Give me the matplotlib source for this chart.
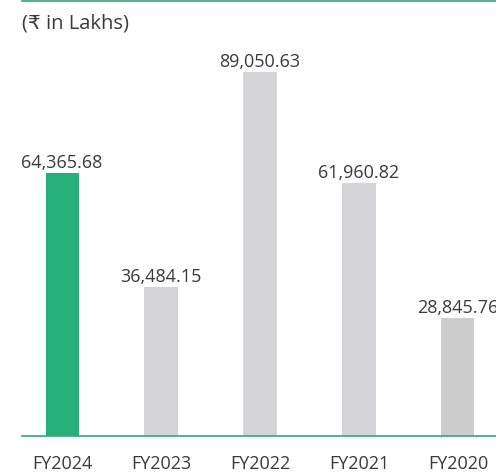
import matplotlib.pyplot as plt
import numpy as np

years = ["FY2024", "FY2023", "FY2022", "FY2021", "FY2020"]
values = [64365.68, 36484.15, 89050.63, 61960.82, 28845.76]
colors = ["#27b07b", "#d4d4d6", "#d4d4d6", "#d4d4d6", "#cdcdcd"]

plt.rcParams['font.family'] = ['Open Sans', 'DejaVu Sans']

fig = plt.figure(figsize=(4.96, 4.77), dpi=100)
ax = fig.add_axes([22 / 496, 1 - 437 / 477, 474 / 496, 435 / 477])

x = np.arange(len(years))
ax.bar(x, values, width=0.335, color=colors, zorder=2)
for xi, v in zip(x, values):
    ax.text(xi, v + 500, f"{v:,.2f}", ha="center", va="bottom",
            fontsize=13, color="#3a3a3a")

ax.set_xlim(-0.405, 4.385)
ax.set_ylim(0, 106400)
ax.set_xticks(x)
ax.set_xticklabels(years, fontsize=13, color="#3a3a3a")
ax.tick_params(axis="x", length=0, pad=13)
ax.set_yticks([])

for s in ["left", "right"]:
    ax.spines[s].set_visible(False)
ax.spines["bottom"].set_color("#2eaa7a")
ax.spines["top"].set_color("#2eaa7a")
ax.spines["bottom"].set_linewidth(1.2)
ax.spines["top"].set_linewidth(1.2)

fig.text(22 / 496, 1 - 23 / 477, "(₹ in Lakhs)", ha="left", va="center",
         fontsize=14.5, color="#3a3a3a")

fig.savefig("out.png", dpi=100)
